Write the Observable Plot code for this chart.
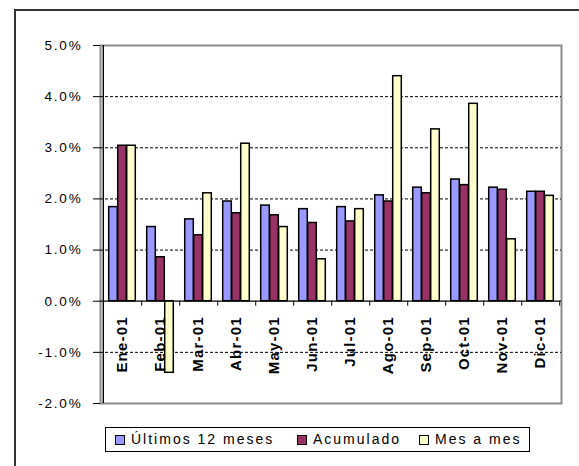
<!DOCTYPE html>
<html>
<head>
<meta charset="utf-8">
<script src="https://cdn.jsdelivr.net/npm/d3@7"></script>
<script src="https://cdn.jsdelivr.net/npm/@observablehq/plot@0.6"></script>
<style>
  html, body { margin: 0; padding: 0; background: #fff; overflow: hidden; }
  #wrap { position: relative; width: 579px; height: 466px; overflow: hidden; font-family: "Liberation Sans", Arial, sans-serif; }
  #outer { position: absolute; left: 14px; top: 9px; width: 700px; height: 600px; border: 2px solid #333; box-sizing: border-box; }
  #chart { position: absolute; left: 0; top: 0; }
  #chart svg { display: block; background: transparent; }
  .ylab text { letter-spacing: 1.8px; }
  .xlab text { letter-spacing: 1.2px; }
  #legend { position: absolute; left: 105px; top: 427px; width: 425px; height: 25px; border: 1px solid #000; box-sizing: border-box; background: #fff; font-size: 14px; letter-spacing: 2px; color: #000; }
  .item { position: absolute; top: 3px; line-height: 17px; white-space: nowrap; }
  .sw { position: absolute; width: 8px; height: 8px; border: 1px solid #000; top: 5px; }
</style>
</head>
<body>
<div id="wrap">
  <div id="outer"></div>
  <div id="chart"></div>
  <div id="legend"></div>
</div>
<script>
const months = ["Ene-01","Feb-01","Mar-01","Abr-01","May-01","Jun-01","Jul-01","Ago-01","Sep-01","Oct-01","Nov-01","Dic-01"];
const seriesNames = ["Últimos 12 meses","Acumulado","Mes a mes"];
const ultimos12 = [1.84,1.45,1.60,1.95,1.87,1.80,1.84,2.07,2.22,2.38,2.22,2.14];
const acumulado = [3.04,0.86,1.29,1.72,1.68,1.53,1.56,1.95,2.11,2.27,2.18,2.14];
const mesAMes   = [3.04,-1.40,2.11,3.08,1.45,0.82,1.80,4.40,3.36,3.86,1.21,2.06];
const seriesColors = ["#9999FF","#993366","#FFFFCC"];
const yTicks = [-2,-1,0,1,2,3,4,5];
const gridTicks = [-1,1,2,3,4];

const seriesValues = [ultimos12, acumulado, mesAMes];

const W = 579, H = 420;
const mL = 100, mR = 18, mT = 45, mB = 17;
const step = (W - mL - mR) / months.length;
const barW = 9;
const groupW = barW * seriesNames.length;

const barMarks = seriesValues.map((vals, k) => {
  const rows = months.map((m, j) => ({month: m, value: vals[j]}));
  const insetLeft = step / 2 - groupW / 2 + barW * k;
  const insetRight = step - insetLeft - barW;
  return Plot.barY(rows, {
    x: "month", y: "value",
    fill: seriesColors[k], stroke: "#000", strokeWidth: 1.5,
    insetLeft, insetRight
  });
});

const chart = Plot.plot({
  width: W, height: H,
  marginLeft: mL, marginRight: mR, marginTop: mT, marginBottom: mB,
  style: {fontFamily: '"Liberation Sans", Arial, sans-serif', background: "transparent", color: "#000"},
  x: {domain: months, padding: 0, axis: null},
  y: {domain: [-2, 5], axis: null},
  marks: [
    Plot.frame({stroke: "#8c8c8c", strokeWidth: 2}),
    Plot.ruleY(gridTicks, {stroke: "#000", strokeWidth: 1, strokeDasharray: "3,2"}),
    ...barMarks,
    Plot.ruleY([0], {stroke: "#000", strokeWidth: 1.2}),
    Plot.ruleX(months, {x: d => d, y1: 0, y2: 0, dx: step / 2, insetBottom: -5, stroke: "#000", strokeWidth: 1}),
    Plot.ruleX(months.slice(0, 1), {x: d => d, dx: -step / 2, stroke: "#000", strokeWidth: 1.4}),
    Plot.axisY(yTicks, {label: null, tickSize: 7, tickPadding: 11, tickFormat: d => d.toFixed(1) + "%", fontSize: 13.5, className: "ylab", stroke: "#000"}),
    Plot.text(months, {x: d => d, y: 0, text: d => d, rotate: -90, textAnchor: "end", dy: 15, fontSize: 15, fontWeight: "bold", fill: "#000", className: "xlab"})
  ]
});
document.getElementById("chart").appendChild(chart);

// Legend
const legend = document.getElementById("legend");
const swLeft = [9, 191, 313];
seriesNames.forEach((name, k) => {
  const sw = document.createElement("div");
  sw.className = "sw";
  sw.style.left = swLeft[k] + "px";
  sw.style.top = "7px";
  sw.style.background = seriesColors[k];
  legend.appendChild(sw);
  const t = document.createElement("div");
  t.className = "item";
  t.style.left = (swLeft[k] + 16) + "px";
  t.textContent = name;
  legend.appendChild(t);
});
</script>
</body>
</html>
